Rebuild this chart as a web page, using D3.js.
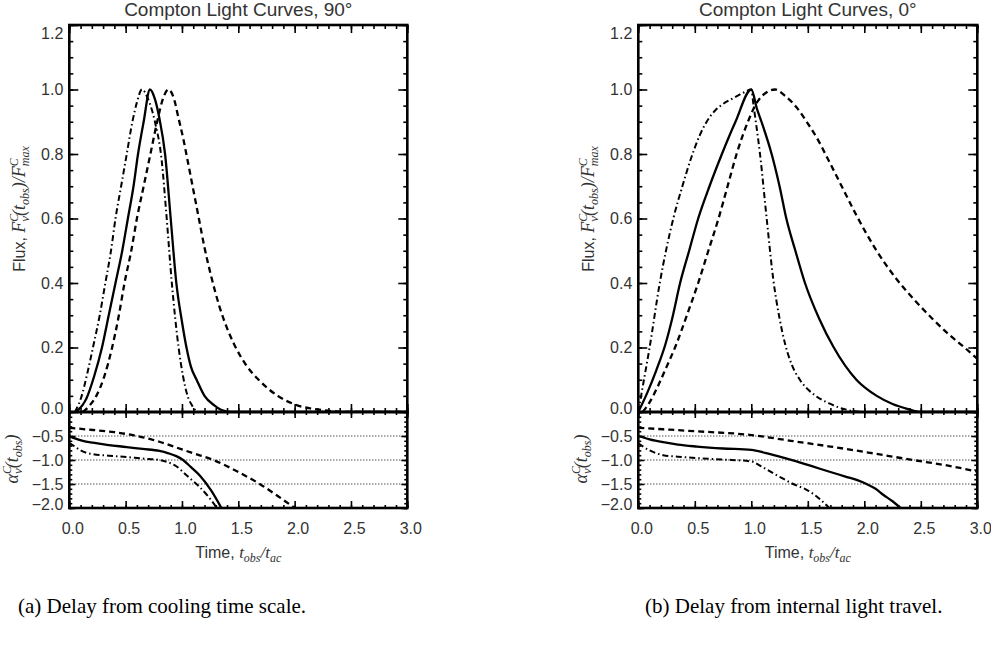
<!DOCTYPE html>
<html><head><meta charset="utf-8">
<script src="https://cdn.jsdelivr.net/npm/d3@7"></script>
<style>body{margin:0;background:#fff}svg{display:block}</style>
</head><body><svg id="c" width="991" height="649"></svg>
<script>
// ---------- data ----------
const timeTicks = [0, 0.5, 1.0, 1.5, 2.0, 2.5, 3.0];
const fluxTicks = [0, 0.2, 0.4, 0.6, 0.8, 1.0, 1.2];
const alphaTicks = [-2.0, -1.5, -1.0, -0.5];
const alphaRefLines = [-0.5, -1.0, -1.5];
const titles = ["Compton Light Curves, 90°", "Compton Light Curves, 0°"];
const captions = ["(a) Delay from cooling time scale.", "(b) Delay from internal light travel."];

// Panel (a): 90 degrees — [t_obs/t_ac, F/Fmax]
const flux90Solid = [[0.06,0],[0.15,0.04],[0.22,0.11],[0.29,0.20],[0.35,0.30],[0.41,0.40],[0.47,0.50],[0.52,0.60],[0.57,0.70],[0.61,0.80],[0.66,0.90],[0.716,1.0],[0.76,0.97],[0.80,0.91],[0.85,0.80],[0.90,0.60],[0.95,0.40],[1.00,0.28],[1.04,0.20],[1.08,0.14],[1.13,0.10],[1.20,0.05],[1.29,0.02],[1.36,0.005],[1.44,0],[3.0,0]];
const flux90Dashed = [[0.12,0],[0.18,0.02],[0.24,0.05],[0.31,0.11],[0.38,0.20],[0.44,0.30],[0.49,0.40],[0.55,0.50],[0.60,0.60],[0.66,0.70],[0.72,0.80],[0.78,0.90],[0.83,0.97],[0.88,1.0],[0.93,0.97],[0.97,0.91],[1.01,0.85],[1.05,0.78],[1.10,0.69],[1.15,0.60],[1.20,0.51],[1.26,0.42],[1.33,0.33],[1.40,0.26],[1.47,0.205],[1.57,0.145],[1.68,0.10],[1.85,0.05],[2.03,0.02],[2.2,0.008],[2.5,0],[3.0,0]];
const flux90DashDot = [[0.05,0],[0.11,0.05],[0.16,0.12],[0.21,0.20],[0.27,0.30],[0.32,0.40],[0.37,0.50],[0.41,0.60],[0.46,0.70],[0.51,0.80],[0.56,0.90],[0.60,0.96],[0.645,1.0],[0.70,0.97],[0.76,0.90],[0.82,0.78],[0.86,0.62],[0.91,0.40],[0.97,0.20],[1.01,0.11],[1.05,0.05],[1.09,0.02],[1.14,0],[3.0,0]];
const alpha90Solid = [[0,-0.5],[0.05,-0.55],[0.12,-0.6],[0.21,-0.64],[0.35,-0.69],[0.51,-0.73],[0.65,-0.77],[0.80,-0.81],[0.88,-0.86],[0.95,-0.92],[1.01,-1.0],[1.08,-1.15],[1.16,-1.33],[1.26,-1.64],[1.35,-2.0]];
const alpha90Dashed = [[0,-0.33],[0.21,-0.375],[0.40,-0.42],[0.6,-0.5],[0.80,-0.62],[1.0,-0.78],[1.1,-0.86],[1.28,-1.0],[1.5,-1.25],[1.69,-1.5],[1.85,-1.75],[2.0,-2.0]];
const alpha90DashDot = [[0,-0.65],[0.05,-0.72],[0.1,-0.8],[0.15,-0.85],[0.21,-0.88],[0.35,-0.91],[0.51,-0.94],[0.65,-0.97],[0.80,-1.0],[0.88,-1.05],[0.95,-1.13],[1.04,-1.32],[1.16,-1.57],[1.24,-1.78],[1.31,-2.0]];

// Panel (b): 0 degrees
const flux0Solid = [[0.0,0],[0.08,0.06],[0.16,0.13],[0.24,0.21],[0.30,0.29],[0.37,0.40],[0.45,0.50],[0.53,0.60],[0.63,0.70],[0.74,0.80],[0.86,0.90],[1.0,1.0],[1.05,0.94],[1.09,0.90],[1.18,0.80],[1.25,0.70],[1.31,0.60],[1.39,0.50],[1.475,0.40],[1.6,0.29],[1.73,0.20],[1.93,0.10],[2.11,0.05],[2.25,0.025],[2.38,0.01],[2.5,0],[3.0,0]];
const flux0Dashed = [[0.04,0],[0.10,0.03],[0.18,0.085],[0.25,0.14],[0.325,0.20],[0.43,0.30],[0.53,0.40],[0.62,0.50],[0.71,0.60],[0.79,0.70],[0.87,0.80],[0.97,0.90],[1.05,0.96],[1.13,0.99],[1.21,1.0],[1.30,0.98],[1.40,0.945],[1.49,0.90],[1.58,0.85],[1.67,0.79],[1.80,0.70],[1.93,0.61],[2.10,0.505],[2.29,0.41],[2.45,0.345],[2.60,0.29],[2.75,0.24],[2.87,0.205],[3.0,0.165]];
const flux0DashDot = [[0.0,0],[0.05,0.10],[0.10,0.20],[0.19,0.40],[0.31,0.60],[0.39,0.70],[0.47,0.79],[0.54,0.855],[0.605,0.90],[0.68,0.935],[0.75,0.955],[0.85,0.975],[0.93,0.99],[1.0,1.0],[1.02,0.95],[1.04,0.90],[1.077,0.80],[1.136,0.60],[1.195,0.41],[1.25,0.29],[1.30,0.21],[1.36,0.145],[1.43,0.10],[1.57,0.05],[1.70,0.025],[1.81,0.01],[2.0,0],[3.0,0]];
const alpha0Solid = [[0,-0.5],[0.1,-0.57],[0.22,-0.63],[0.35,-0.68],[0.52,-0.72],[0.75,-0.76],[1.0,-0.79],[1.12,-0.85],[1.25,-0.93],[1.4,-1.03],[1.55,-1.14],[1.7,-1.25],[1.84,-1.35],[1.95,-1.43],[2.02,-1.5],[2.1,-1.6],[2.17,-1.73],[2.25,-1.86],[2.32,-2.0]];
const alpha0Dashed = [[0,-0.33],[0.5,-0.4],[1.0,-0.48],[1.35,-0.6],[1.7,-0.72],[2.05,-0.85],[2.43,-1.0],[2.7,-1.1],[3.0,-1.24]];
const alpha0DashDot = [[0,-0.65],[0.1,-0.8],[0.22,-0.9],[0.35,-0.93],[0.52,-0.96],[0.75,-0.99],[1.0,-1.03],[1.1,-1.15],[1.25,-1.35],[1.37,-1.5],[1.49,-1.62],[1.6,-1.8],[1.69,-2.0]];

// ---------- drawing ----------
const svg = d3.select("#c");
const TOP = 25, MID = 412, BOT = 508;
const styles = {
  solid:   {w: 2.3, dash: null},
  dashed:  {w: 2.3, dash: "6,4"},
  dashdot: {w: 2.0, dash: "6,3,1.5,3"}
};
const SANS = "'Liberation Sans', Arial, Helvetica, sans-serif";
const SERIF = "'Liberation Serif', 'DejaVu Serif', serif";
const TXT = "#333";

function styleAxis(g) {
  g.select(".domain").remove();
  g.selectAll(".tick line").attr("stroke", "#000").attr("stroke-width", 1.6);
  g.selectAll(".tick text").attr("fill", TXT).attr("font-family", SANS).attr("font-size", 16);
  g.attr("font-family", null).attr("font-size", null);
}

function drawPanel(idx, x0, x1, fluxSets, alphaSets) {
  const g = svg.append("g");
  const x = d3.scaleLinear([0, 3], [x0, x1]);
  const yF = d3.scaleLinear([0, 1.2], [MID, TOP]);
  const yA = d3.scaleLinear([-2, 0], [BOT, MID]);
  const minorX = d3.range(0, 30.01, 1).map(v => v / 10);
  const minorF = d3.range(0, 24.01, 1).map(v => v / 20);
  const minorA = d3.range(-20, 0.01, 1).map(v => v / 10);

  const defs = svg.append("defs");
  defs.append("clipPath").attr("id", "cf" + idx).append("rect")
    .attr("x", x0).attr("y", TOP).attr("width", x1 - x0).attr("height", MID - TOP);
  defs.append("clipPath").attr("id", "ca" + idx).append("rect")
    .attr("x", x0).attr("y", MID).attr("width", x1 - x0).attr("height", BOT - MID);

  // dotted reference lines
  g.append("g").selectAll("line").data(alphaRefLines).join("line")
    .attr("x1", x0).attr("x2", x1).attr("y1", d => yA(d)).attr("y2", d => yA(d))
    .attr("stroke", "#000").attr("stroke-width", 1).attr("stroke-dasharray", "1,2");

  // curves
  const lineF = d3.line().x(d => x(d[0])).y(d => yF(d[1])).curve(d3.curveMonotoneX);
  const lineA = d3.line().x(d => x(d[0])).y(d => yA(d[1])).curve(d3.curveMonotoneX);
  g.append("g").attr("clip-path", `url(#cf${idx})`).selectAll("path").data(fluxSets).join("path")
    .attr("d", d => lineF(d.data)).attr("fill", "none").attr("stroke", "#000")
    .attr("stroke-width", d => styles[d.style].w).attr("stroke-dasharray", d => styles[d.style].dash)
    .attr("stroke-linejoin", "round");
  g.append("g").attr("clip-path", `url(#ca${idx})`).selectAll("path").data(alphaSets).join("path")
    .attr("d", d => lineA(d.data)).attr("fill", "none").attr("stroke", "#000")
    .attr("stroke-width", d => styles[d.style].w).attr("stroke-dasharray", d => styles[d.style].dash)
    .attr("stroke-linejoin", "round");

  // ---- upper panel axes ----
  g.append("g").attr("transform", `translate(0,${MID})`).call(d3.axisBottom(x).tickValues(minorX).tickSize(-4).tickFormat("")).call(styleAxis);
  g.append("g").attr("transform", `translate(0,${MID})`).call(d3.axisBottom(x).tickValues(timeTicks).tickSize(-8).tickFormat("")).call(styleAxis);
  g.append("g").attr("transform", `translate(0,${TOP})`).call(d3.axisTop(x).tickValues(minorX).tickSize(-4).tickFormat("")).call(styleAxis);
  g.append("g").attr("transform", `translate(0,${TOP})`).call(d3.axisTop(x).tickValues(timeTicks).tickSize(-8).tickFormat("")).call(styleAxis);
  g.append("g").attr("transform", `translate(${x0},0)`).call(d3.axisLeft(yF).tickValues(minorF).tickSize(-4).tickFormat("")).call(styleAxis);
  const la = g.append("g").attr("transform", `translate(${x0},0)`)
    .call(d3.axisLeft(yF).tickValues(fluxTicks).tickSize(-9).tickPadding(6).tickFormat(d3.format(".1f"))).call(styleAxis);
  la.selectAll(".tick text").attr("dy", d => d === 1.2 ? "0.85em" : d === 0 ? "0.12em" : "0.32em");
  g.append("g").attr("transform", `translate(${x1},0)`).call(d3.axisRight(yF).tickValues(minorF).tickSize(-4).tickFormat("")).call(styleAxis);
  g.append("g").attr("transform", `translate(${x1},0)`).call(d3.axisRight(yF).tickValues(fluxTicks).tickSize(-9).tickFormat("")).call(styleAxis);

  // ---- lower panel axes ----
  g.append("g").attr("transform", `translate(0,${BOT})`).call(d3.axisBottom(x).tickValues(minorX).tickSize(-3).tickFormat("")).call(styleAxis);
  const bx = g.append("g").attr("transform", `translate(0,${BOT})`)
    .call(d3.axisBottom(x).tickValues(timeTicks).tickSize(-7).tickPadding(15).tickFormat(d3.format(".1f"))).call(styleAxis);
  bx.selectAll(".tick text").attr("dx", 3);
  g.append("g").attr("transform", `translate(0,${MID})`).call(d3.axisBottom(x).tickValues(minorX).tickSize(3).tickFormat("")).call(styleAxis);
  g.append("g").attr("transform", `translate(0,${MID})`).call(d3.axisBottom(x).tickValues(timeTicks).tickSize(6).tickFormat("")).call(styleAxis);
  g.append("g").attr("transform", `translate(${x0},0)`).call(d3.axisLeft(yA).tickValues(minorA).tickSize(-3).tickFormat("")).call(styleAxis);
  const lA = g.append("g").attr("transform", `translate(${x0},0)`)
    .call(d3.axisLeft(yA).tickValues(alphaTicks).tickSize(-6).tickPadding(6).tickFormat(d3.format(".1f"))).call(styleAxis);
  lA.selectAll(".tick text").attr("dy", d => d === -2 ? "0.12em" : "0.32em");
  g.append("g").attr("transform", `translate(${x1},0)`).call(d3.axisRight(yA).tickValues(minorA).tickSize(-3).tickFormat("")).call(styleAxis);
  g.append("g").attr("transform", `translate(${x1},0)`).call(d3.axisRight(yA).tickValues(alphaTicks).tickSize(-6).tickFormat("")).call(styleAxis);

  // frames
  g.append("rect").attr("x", x0).attr("y", TOP).attr("width", x1 - x0).attr("height", MID - TOP)
    .attr("fill", "none").attr("stroke", "#000").attr("stroke-width", 2.6);
  g.append("rect").attr("x", x0).attr("y", MID).attr("width", x1 - x0).attr("height", BOT - MID)
    .attr("fill", "none").attr("stroke", "#000").attr("stroke-width", 2.6);

  const cx = (x0 + x1) / 2;
  g.append("text").attr("x", cx).attr("y", 16).attr("text-anchor", "middle")
    .attr("font-family", SANS).attr("font-size", 19).attr("fill", TXT).text(titles[idx]);

  const mi = (t, txt, fs, dx, dy) => { const s = t.append("tspan").attr("font-family", SERIF).attr("font-style", "italic").attr("font-size", fs).text(txt); if (dx) s.attr("dx", dx); if (dy) s.attr("dy", dy); return s; };

  // y label upper
  const fl = g.append("text").attr("transform", `translate(${x0 - 44},209) rotate(-90)`)
    .attr("text-anchor", "middle").attr("fill", TXT);
  fl.append("tspan").attr("font-family", SANS).attr("font-size", 16).text("Flux, ");
  mi(fl, "F", 18);
  mi(fl, "C", 12, 0, -7);
  mi(fl, "ν", 13, -8, 11);
  mi(fl, "(t", 18, 0, -4);
  mi(fl, "obs", 12, 0, 4);
  mi(fl, ")/F", 18, 0, -4);
  mi(fl, "C", 12, 0, -7);
  mi(fl, "max", 12, -8, 11);

  // y label lower
  const al = g.append("text").attr("transform", `translate(${x0 - 51},459) rotate(-90)`)
    .attr("text-anchor", "middle").attr("fill", TXT);
  mi(al, "α", 18);
  mi(al, "C", 12, 0, -7);
  mi(al, "ν", 13, -8, 11);
  mi(al, "(t", 18, 0, -4);
  mi(al, "obs", 12, 0, 4);
  mi(al, ")", 18, 0, -4);

  // x label
  const xl = g.append("text").attr("x", cx).attr("y", 558).attr("text-anchor", "middle").attr("fill", TXT);
  xl.append("tspan").attr("font-family", SANS).attr("font-size", 16).text("Time,  ");
  mi(xl, "t", 17);
  mi(xl, "obs", 12, 0, 4);
  mi(xl, "/t", 17, 0, -4);
  mi(xl, "ac", 12, 0, 4);
}

drawPanel(0, 69.3, 407.3,
  [{data: flux90Solid, style: "solid"}, {data: flux90Dashed, style: "dashed"}, {data: flux90DashDot, style: "dashdot"}],
  [{data: alpha90Solid, style: "solid"}, {data: alpha90Dashed, style: "dashed"}, {data: alpha90DashDot, style: "dashdot"}]);
drawPanel(1, 638.3, 977.3,
  [{data: flux0Solid, style: "solid"}, {data: flux0Dashed, style: "dashed"}, {data: flux0DashDot, style: "dashdot"}],
  [{data: alpha0Solid, style: "solid"}, {data: alpha0Dashed, style: "dashed"}, {data: alpha0DashDot, style: "dashdot"}]);

// captions
svg.selectAll("text.cap").data(captions).join("text").attr("class", "cap")
  .attr("x", (d, i) => i === 0 ? 18 : 645).attr("y", 613)
  .attr("font-family", SERIF).attr("font-size", 21).attr("fill", "#000").text(d => d);
</script>
</body></html>
